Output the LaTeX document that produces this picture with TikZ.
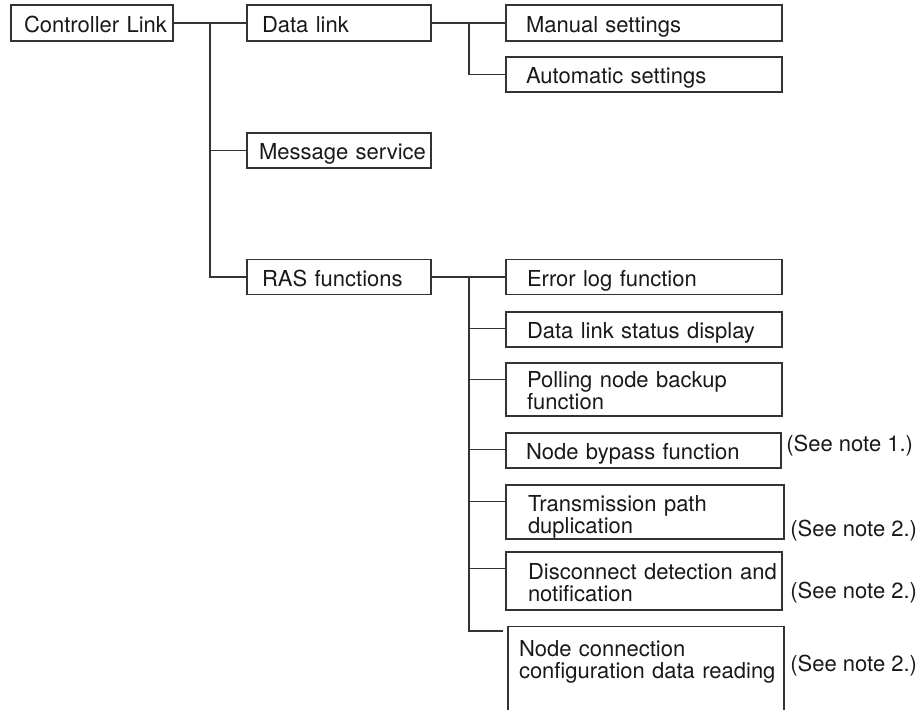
\documentclass[tikz,border=0pt]{standalone}
\usepackage{fontspec}
\setmainfont{TeX Gyre Heros}

\tikzset{
  box/.style={draw=black!80, line width=0.65pt, rectangle, inner sep=0pt, align=left,
    text height=9.5pt, text depth=0pt, execute at begin node={\leftskip=#1}},
  note/.style={anchor=west, inner sep=0pt},
  link/.style={draw=black!80, line width=0.65pt},
}

\begin{document}
\begin{tikzpicture}[x=0.5pt, y=-0.5pt, font=\fontsize{11}{11}\selectfont, text=black!90]
       \useasboundingbox (0,0) rectangle (923,710);
       \clip (0,0) rectangle (923,710);

       % top level
       \node(CL)[box=6.5pt, text width=81pt, minimum height=18pt] at (92,23) {Controller Link};
       \node(DL)[box=7.5pt, text width=92pt, minimum height=18pt] at (339,23) {Data link};
       \node(MS)[box=6pt, text width=92pt, minimum height=17.5pt] at (339,150.5) {Message service};
       \node(RAS)[box=7.5pt, text width=92pt, minimum height=17.5pt] at (339,277) {RAS functions};

       \coordinate(T1) at (210,23);
       \draw[link] (CL) -- (DL);
       \draw[link] (T1) |- (MS);
       \draw[link] (T1) |- (RAS);

       % data link
       \node(MAN)[box=10pt, text width=138pt, minimum height=18pt] at (644,23) {Manual settings};
       \node(AUTO)[box=10pt, text width=138pt, minimum height=17.5pt] at (644,74.5) {Automatic settings};

       \coordinate(T2) at (469,23);
       \draw[link] (DL) -- (MAN);
       \draw[link] (T2) |- (AUTO);

       % RAS functions
       \node(ERR)[box=10.5pt, text width=138pt, minimum height=17.5pt] at (644,277) {Error log function};
       \node(STAT)[box=10.5pt, text width=138pt, minimum height=17.5pt] at (644,329.5) {Data link status display};
       \node(POLL)[box=10.5pt, text width=138pt, minimum height=26.5pt, text depth=11pt] at (644,389.5) {Polling node backup\\function};
       \node(BYP)[box=10pt, text width=137.5pt, minimum height=17.5pt] at (643.5,450.5) {Node bypass function};
       \node(TRANS)[box=11pt, text width=139pt, minimum height=27pt, text depth=10pt] at (645,512) {Transmission path\\duplication};
       \node(DISC)[box=11pt, text width=138pt, minimum height=29pt, text depth=11pt] at (644,581) {Disconnect detection and\\notification};
       \node(NC)[box=5.5pt, text width=138pt, minimum height=47pt, text depth=26.8pt, anchor=north] at (646,626) {Node connection\\configuration data reading};

       \coordinate(T3) at (469,277);
       \coordinate(NCEND) at (503,631);
       \draw[link] (RAS) -- (ERR);
       \draw[link] (T3) |- ([yshift=-8.5pt]STAT.north west);
       \draw[link] (T3) |- ([yshift=-8.5pt]POLL.north west);
       \draw[link] (T3) |- ([yshift=-8.5pt]BYP.north west);
       \draw[link] (T3) |- ([yshift=-8.5pt]TRANS.north west);
       \draw[link] (T3) |- ([yshift=-8.5pt]DISC.north west);
       \draw[link] (T3) |- (NCEND);

       % notes
       \node(N1)[note] at (786,445.5) {(See note 1.)};
       \node(N2)[note] at (790,531) {(See note 2.)};
       \node(N3)[note] at (790,592.5) {(See note 2.)};
       \node(N4)[note] at (790,666) {(See note 2.)};

     \end{tikzpicture}
\end{document}
